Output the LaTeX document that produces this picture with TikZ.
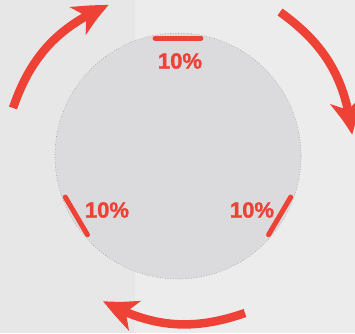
\documentclass[tikz,border=0pt]{standalone}
\usepackage{fontspec}
\setmainfont{Liberation Sans}
\usetikzlibrary{arrows.meta,bending}
\definecolor{ared}{RGB}{238,66,54}
\definecolor{bgl}{RGB}{236,236,236}
\definecolor{bgd}{RGB}{231,231,232}
\definecolor{disc}{RGB}{219,219,221}
\newfontfamily\pctfont[FakeBold=1.3]{Liberation Sans Bold}
\begin{document}
\begin{tikzpicture}[x=1pt,y=1pt,
  bigarrow/.style={ared, line width=8.5pt, -{Stealth[length=36pt,width=31pt,inset=10pt,bend]}},
  seg/.style={ared, line width=5pt, line cap=round},
  pct/.style={text=ared, font=\pctfont\fontsize{22}{22}\selectfont, inner sep=0pt}]
\useasboundingbox (0,0) rectangle (355,333);
\fill[bgl] (0,0) rectangle (355,333);
\fill[bgd] (0,0) rectangle (135,333);
\node[circle, minimum size=246pt, inner sep=0pt, fill=disc, draw=gray!80, dotted, line width=0.6pt] (circ) at (178,177) {};
% red segments on the rim
\draw[seg] ([shift={(79:120)}]circ.center) -- ([shift={(101:120)}]circ.center);
\draw[seg] ([shift={(200:120)}]circ.center) -- ([shift={(221:120)}]circ.center);
\draw[seg] ([shift={(-20:120)}]circ.center) -- ([shift={(-41:120)}]circ.center);
% labels
\node[pct] (ltop) at (180,272) {10\%};
\node[pct] (lleft) at (107,123) {10\%};
\node[pct] (lright) at (252,123) {10\%};
% arrows
\coordinate (a1s) at (13,225);
\coordinate (a1e) at (109,328);
\coordinate (a2s) at (280,321);
\coordinate (a2e) at (352,198);
\coordinate (a3s) at (245,20);
\coordinate (a3e) at (103,32);
\draw[bigarrow] (a1s) to[bend left=24] (a1e);
\draw[bigarrow] (a2s) to[bend left=24] (a2e);
\draw[bigarrow] (a3s) to[bend left=24] (a3e);
\end{tikzpicture}
\end{document}
